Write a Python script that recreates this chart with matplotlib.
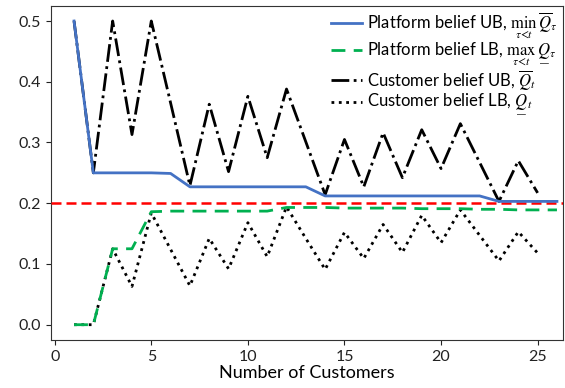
import matplotlib
matplotlib.use("Agg")
import matplotlib.pyplot as plt
import numpy as np

plt.rcParams['font.family'] = ['Lato', 'DejaVu Sans']
plt.rcParams['mathtext.fontset'] = 'stix'

# customers t = 1..26
t = np.arange(1, 27)

platform_ub = [0.5, 0.25, 0.25, 0.25, 0.25, 0.249, 0.227, 0.227, 0.227, 0.227,
               0.227, 0.227, 0.227, 0.212, 0.212, 0.212, 0.212, 0.212, 0.212, 0.212,
               0.212, 0.212, 0.203, 0.203, 0.203, 0.203]
platform_lb = [0.0, 0.0, 0.125, 0.125, 0.186, 0.187, 0.187, 0.187, 0.187, 0.187,
               0.187, 0.193, 0.193, 0.193, 0.192, 0.192, 0.192, 0.192, 0.191, 0.191,
               0.191, 0.190, 0.190, 0.189, 0.189, 0.189]

# customer beliefs only up to t = 25
tc = np.arange(1, 26)
customer_ub = [0.5, 0.25, 0.5, 0.313, 0.5, 0.365, 0.229, 0.363, 0.252, 0.376,
               0.275, 0.388, 0.301, 0.214, 0.305, 0.227, 0.316, 0.242, 0.321, 0.257,
               0.331, 0.267, 0.203, 0.270, 0.217]
customer_lb = [0.0, 0.0, 0.125, 0.063, 0.184, 0.124, 0.064, 0.142, 0.092, 0.168,
               0.112, 0.194, 0.142, 0.091, 0.152, 0.109, 0.165, 0.119, 0.180, 0.135,
               0.189, 0.147, 0.105, 0.153, 0.118]
true_q = 0.2

# mathtext has no \underline, so stack a low line under Q
QLOW = r'\underset{\_\!\!\_}{Q}'

fig = plt.figure(figsize=(5.65, 3.88), dpi=100)
ax = fig.add_axes([0.090, 0.124, 0.906, 0.861])

# platform bounds sit on top of the customer beliefs
ax.plot(t, platform_ub, color='#4472C4', lw=2, zorder=4,
        label=r'Platform belief UB, $\min_{\tau<t}\,\overline{Q}_\tau$')
ax.plot(t, platform_lb, color='#00B050', lw=2, dashes=(5, 3), zorder=4,
        label=r'Platform belief LB, $\max_{\tau<t}\,' + QLOW + r'_\tau$')
ax.plot(tc, customer_ub, color='black', lw=2, ls='-.', zorder=2,
        label=r'Customer belief UB, $\overline{Q}_t$')
ax.plot(tc, customer_lb, color='black', lw=2, ls=':', zorder=2,
        label=r'Customer belief LB, $' + QLOW + r'_t$')
ax.axhline(true_q, color='red', lw=1.8, dashes=(4, 2), zorder=3)

ax.set_xlim(-0.2, 26.3)
ax.set_ylim(-0.025, 0.525)
ax.set_xticks([0, 5, 10, 15, 20, 25])
ax.set_yticks([0.0, 0.1, 0.2, 0.3, 0.4, 0.5])
ax.tick_params(labelsize=11.5, colors='#222222')
ax.set_xlabel('Number of Customers', fontsize=13, labelpad=1)
for s in ax.spines.values():
    s.set_color('#333333')

ax.legend(loc='upper right', frameon=False, fontsize=12, handlelength=1.9,
          handletextpad=0.3, labelspacing=0.0, borderaxespad=0.0,
          borderpad=0.3)

fig.savefig('out.png', dpi=100)
